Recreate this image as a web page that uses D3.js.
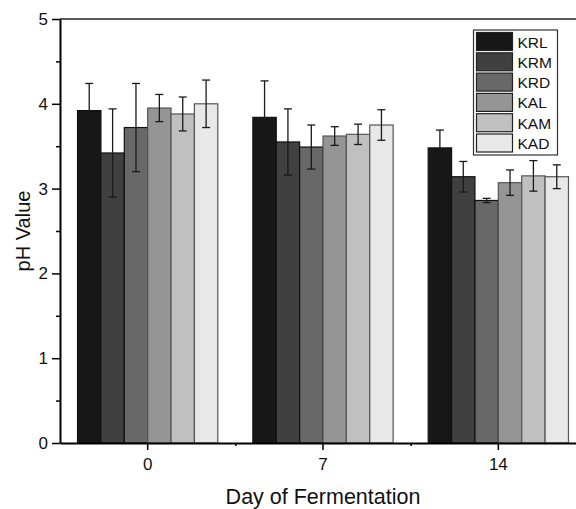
<!DOCTYPE html>
<html>
<head>
<meta charset="utf-8">
<script src="https://cdn.jsdelivr.net/npm/d3@7"></script>
<style>
  body { margin: 0; background: #fff; }
  text { font-family: "Liberation Sans", Arial, sans-serif; fill: #111; }
</style>
</head>
<body>
<script>
// categories and series
var days = ["0", "7", "14"];
var groups = ["KRL", "KRM", "KRD", "KAL", "KAM", "KAD"];
var colors = ["#171717", "#404040", "#686868", "#959595", "#c0c0c0", "#e8e8e8"];

// mean pH per group, one array per day
var day0 = [3.92, 3.42, 3.72, 3.95, 3.88, 4.00];
var day7 = [3.84, 3.55, 3.49, 3.62, 3.64, 3.75];
var day14 = [3.48, 3.14, 2.86, 3.07, 3.15, 3.14];

// standard deviations
var err0 = [0.32, 0.52, 0.52, 0.16, 0.20, 0.28];
var err7 = [0.43, 0.39, 0.26, 0.11, 0.12, 0.18];
var err14 = [0.21, 0.18, 0.025, 0.15, 0.18, 0.14];

var yTicks = [0, 1, 2, 3, 4, 5];

var means = [day0, day7, day14];
var errs = [err0, err7, err14];

var W = 576, H = 509;
var margin = { top: 19, left: 60 };
var plotW = 526, plotH = 424;

var svg = d3.select("body").append("svg")
    .attr("width", W)
    .attr("height", H);

var g = svg.append("g")
    .attr("transform", "translate(" + margin.left + "," + margin.top + ")");

// scales
var x0 = d3.scaleBand()
    .domain(days)
    .range([0, plotW])
    .paddingInner(0.2)
    .paddingOuter(0.1);

var x1 = d3.scaleBand()
    .domain(groups)
    .range([0, x0.bandwidth()]);

var y = d3.scaleLinear()
    .domain([0, 5])
    .range([plotH, 0]);

// build rows for drawing
var rows = [];
days.forEach(function(d, i) {
    groups.forEach(function(k, j) {
        rows.push({ day: d, group: k, idx: j, v: means[i][j], e: errs[i][j] });
    });
});

// bars
g.selectAll("rect.bar")
    .data(rows)
    .enter()
    .append("rect")
    .attr("class", "bar")
    .attr("x", function(d) { return x0(d.day) + x1(d.group); })
    .attr("y", function(d) { return y(d.v); })
    .attr("width", x1.bandwidth())
    .attr("height", function(d) { return plotH - y(d.v); })
    .attr("fill", function(d) { return colors[d.idx]; })
    .attr("stroke", function(d) { return d.idx < 3 ? "#111" : "#555"; })
    .attr("stroke-width", 1.2);

// error bars
var eb = g.selectAll("g.err")
    .data(rows)
    .enter()
    .append("g")
    .attr("class", "err")
    .attr("stroke", "#1a1a1a")
    .attr("stroke-width", 1.3);

function cx(d) { return x0(d.day) + x1(d.group) + x1.bandwidth() / 2; }

eb.append("line")
    .attr("x1", cx).attr("x2", cx)
    .attr("y1", function(d) { return y(d.v + d.e); })
    .attr("y2", function(d) { return y(d.v - d.e); });

eb.append("line")
    .attr("x1", function(d) { return cx(d) - 4; })
    .attr("x2", function(d) { return cx(d) + 4; })
    .attr("y1", function(d) { return y(d.v + d.e); })
    .attr("y2", function(d) { return y(d.v + d.e); });

eb.append("line")
    .attr("x1", function(d) { return cx(d) - 4; })
    .attr("x2", function(d) { return cx(d) + 4; })
    .attr("y1", function(d) { return y(d.v - d.e); })
    .attr("y2", function(d) { return y(d.v - d.e); });

// frame: top and right
g.append("line")
    .attr("x1", 0).attr("x2", plotW)
    .attr("y1", 0).attr("y2", 0)
    .attr("stroke", "#222").attr("stroke-width", 1.5);
g.append("line")
    .attr("x1", plotW).attr("x2", plotW)
    .attr("y1", 0).attr("y2", plotH)
    .attr("stroke", "#222").attr("stroke-width", 1.5);

// y axis minor ticks
g.append("g")
    .call(d3.axisLeft(y).tickValues(d3.range(0.5, 5, 1)).tickSize(4).tickFormat(""))
    .call(function(a) { a.select(".domain").remove(); })
    .selectAll("line").attr("stroke", "#000").attr("stroke-width", 1.5);

// y axis
var yAxis = g.append("g")
    .call(d3.axisLeft(y).tickValues(yTicks).tickFormat(d3.format("d"))
        .tickSize(8).tickPadding(4).tickSizeOuter(0));
yAxis.select(".domain").attr("stroke", "#000").attr("stroke-width", 2);
yAxis.selectAll(".tick line").attr("stroke", "#000").attr("stroke-width", 1.5);
yAxis.selectAll("text")
    .style("font-family", "'Liberation Sans', Arial, sans-serif")
    .style("font-size", "17px")
    .attr("fill", "#111");

// x axis minor ticks between days
var xMinor = d3.scaleLinear().domain([0, 3]).range([0, plotW]);
g.append("g")
    .attr("transform", "translate(0," + plotH + ")")
    .call(d3.axisBottom(xMinor).tickValues([1, 2]).tickSize(3).tickFormat(""))
    .call(function(a) { a.select(".domain").remove(); })
    .selectAll("line").attr("stroke", "#000").attr("stroke-width", 1.5);

// x axis
var xAxis = g.append("g")
    .attr("transform", "translate(0," + plotH + ")")
    .call(d3.axisBottom(x0).tickSize(7).tickPadding(8).tickSizeOuter(0));
xAxis.select(".domain").attr("stroke", "#000").attr("stroke-width", 2);
xAxis.selectAll(".tick line").attr("stroke", "#000").attr("stroke-width", 1.5);
xAxis.selectAll("text")
    .style("font-family", "'Liberation Sans', Arial, sans-serif")
    .style("font-size", "17px")
    .attr("fill", "#111");

// axis titles
svg.append("text")
    .attr("x", 323)
    .attr("y", 504)
    .attr("text-anchor", "middle")
    .style("font-size", "21.5px")
    .text("Day of Fermentation");

svg.append("text")
    .attr("transform", "translate(30," + (margin.top + plotH / 2) + ") rotate(-90)")
    .attr("text-anchor", "middle")
    .style("font-size", "20px")
    .text("pH Value");

// legend
var leg = svg.append("g")
    .attr("transform", "translate(473.5,30)");

leg.append("rect")
    .attr("width", 84)
    .attr("height", 125)
    .attr("fill", "#fff")
    .attr("stroke", "#333")
    .attr("stroke-width", 1.2);

var item = leg.selectAll("g.item")
    .data(groups)
    .enter()
    .append("g")
    .attr("class", "item")
    .attr("transform", function(d, i) { return "translate(3," + (2.5 + i * 20.3) + ")"; });

item.append("rect")
    .attr("width", 36)
    .attr("height", 18)
    .attr("fill", function(d, i) { return colors[i]; })
    .attr("stroke", "#222")
    .attr("stroke-width", 1.2);

item.append("text")
    .attr("x", 41)
    .attr("y", 15)
    .style("font-size", "15.5px")
    .text(function(d) { return d; });
</script>
</body>
</html>
